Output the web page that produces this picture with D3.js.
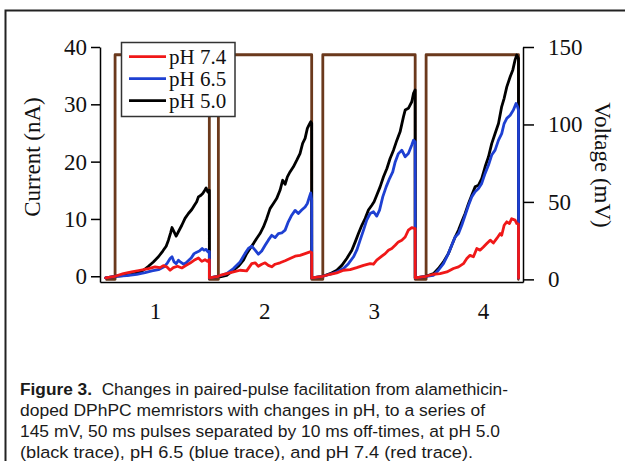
<!DOCTYPE html>
<html><head><meta charset="utf-8">
<script src="https://cdn.jsdelivr.net/npm/d3@7"></script>
<style>body{margin:0;background:#fff}svg{display:block}</style>
</head><body>
<svg id="c" width="625" height="461"></svg>
<script>
// ---- data (time in ms, current in nA, voltage in mV) ----
const pulseOnsets  = [0, 54.8, 110.2, 165.0];
const pulseOffsets = [50.0, 104.3, 159.2, 214.0];
const pulseVoltage = 145;
const restVoltage = 0;
const traceStart = -5;
const traceEnd = 214.4;
const offCurrent = -0.3;
const pulseLabels = ["1", "2", "3", "4"];
const currentTicks = [0, 10, 20, 30, 40];
const voltageTicks = [0, 50, 100, 150];
const seriesNames = ["pH 7.4", "pH 6.5", "pH 5.0"];

// current during each pulse: [ms after pulse onset, nA]
const pH74 = [
  [[0,0],[4.4,0.45],[8.8,0.75],[13.3,1.05],[17.7,1.35],[21.2,1.65],[23.9,1.5],[25.6,1.85],[27.4,1.65],[29.2,1.05],[30.9,1.5],[33.1,1.75],[35.4,1.45],[37.7,1.9],[39.8,2.3],[42.4,2.9],[44.2,3.2],[46.0,2.6],[47.7,2.9],[49.0,2.6],[50.0,2.9]],
  [[0,0],[0.9,0.15],[4.4,0.45],[8.0,0.75],[11.5,1.05],[15.0,0.95],[17.7,2.2],[19.5,2.35],[21.2,1.75],[23.0,2.1],[24.8,2.35],[26.5,1.9],[28.3,1.65],[30.1,2.1],[32.7,2.35],[35.4,2.7],[38.0,3.1],[40.7,3.5],[43.3,3.65],[46.0,3.95],[48.6,4.25],[49.5,4.15]],
  [[0,0],[3.9,0.35],[7.4,0.6],[11.0,1.05],[14.5,1.15],[18.0,1.5],[21.6,1.9],[25.1,2.2],[26.9,2.1],[28.6,2.8],[31.3,3.5],[33.1,3.95],[34.8,4.55],[36.6,4.85],[38.4,5.4],[40.1,6.0],[41.9,6.3],[43.7,6.85],[45.4,8.05],[47.2,8.5],[49.0,8.3]],
  [[0,0],[3.9,0.35],[7.4,0.45],[11.0,0.75],[14.5,1.35],[17.2,1.65],[19.8,2.2],[21.6,3.1],[23.3,3.65],[25.1,3.4],[26.9,4.85],[28.6,4.55],[30.4,5.1],[32.2,5.7],[34.0,6.3],[35.7,5.8],[37.5,6.6],[39.3,7.45],[40.1,7.15],[41.4,8.9],[42.8,9.5],[44.2,9.2],[45.4,10.05],[47.2,9.8],[48.1,9.2],[49.0,9.1]]
];
const pH65 = [
  [[0,0],[6.2,0.1],[11.5,0.35],[15.9,0.65],[19.5,0.95],[23.0,1.15],[26.0,1.65],[27.8,2.35],[29.2,3.1],[30.2,3.4],[31.3,2.5],[32.4,2.2],[33.6,2.8],[34.8,2.45],[36.3,2.1],[37.7,2.35],[39.1,2.8],[40.5,3.25],[41.9,3.95],[43.3,4.2],[44.7,4.4],[46.2,4.85],[47.2,4.55],[48.3,4.7],[49.3,4.25],[50.0,4.35]],
  [[0,0],[4.4,0.45],[8.0,1.35],[11.5,2.5],[14.1,3.95],[15.9,4.85],[17.7,5.25],[19.5,4.55],[21.2,3.85],[23.0,4.4],[24.8,5.4],[26.5,6.3],[28.3,7.15],[30.1,6.75],[31.8,7.45],[33.6,7.55],[35.4,8.05],[37.1,9.5],[38.9,10.65],[40.7,11.5],[42.4,10.95],[44.2,11.55],[46.0,12.1],[47.2,12.7],[48.3,13.85],[49.0,14.55],[49.5,13.3]],
  [[0,0],[3.9,0.35],[7.4,0.75],[11.0,1.35],[13.6,2.2],[16.3,3.4],[18.0,4.55],[19.8,6.3],[21.6,8.05],[23.3,9.8],[25.1,10.95],[26.9,11.25],[28.6,10.5],[30.1,11.55],[31.8,13.85],[33.6,15.6],[35.4,17.05],[37.1,18.2],[38.4,19.95],[40.1,21.4],[41.9,22.0],[43.7,20.85],[45.4,21.4],[47.2,22.9],[48.1,23.75],[49.0,23.45]],
  [[0,0],[3.9,0.15],[6.5,1.05],[9.2,2.2],[11.8,3.95],[13.6,5.4],[15.4,6.85],[17.2,7.45],[18.9,8.9],[20.7,10.65],[22.5,12.4],[24.2,13.85],[26.0,14.75],[27.8,15.3],[29.5,16.2],[31.3,17.95],[33.1,19.4],[34.8,21.15],[36.6,22.0],[38.4,23.75],[40.1,24.9],[41.4,26.65],[42.8,27.55],[44.6,28.1],[46.3,29.0],[47.7,30.15],[48.5,29.6],[49.0,29.0]]
];
const pH50 = [
  [[0,0],[4.4,0.1],[8.8,0.35],[12.4,0.65],[15.0,1.05],[17.7,1.75],[20.3,2.5],[23.0,3.4],[25.3,4.4],[27.1,5.25],[28.3,6.3],[29.5,7.6],[30.2,8.5],[31.3,7.75],[32.4,7.0],[33.8,7.9],[35.4,8.9],[37.1,10.1],[38.9,10.95],[40.7,11.65],[42.1,12.4],[43.3,13.0],[44.2,13.85],[45.4,14.1],[46.5,14.45],[47.6,15.0],[48.3,15.4],[49.2,14.7],[50.0,15.0]],
  [[0,0],[0.9,-0.1],[4.4,0.15],[8.0,1.05],[10.6,1.75],[13.3,2.8],[15.0,3.95],[16.8,4.85],[18.6,5.7],[20.3,6.6],[22.1,7.45],[23.9,8.6],[25.6,10.05],[27.4,11.8],[29.2,12.7],[30.9,13.55],[32.7,15.0],[34.1,16.75],[35.4,16.05],[36.6,17.35],[38.0,18.2],[39.8,19.1],[41.6,20.25],[43.3,21.4],[44.7,23.2],[46.0,24.05],[47.2,25.8],[48.3,26.55],[49.0,26.95],[49.5,26.7]],
  [[0,0],[3.9,0.45],[7.4,1.05],[10.1,1.9],[12.7,3.1],[15.4,4.55],[17.2,6.0],[18.9,7.45],[20.7,8.9],[22.5,10.1],[24.2,11.55],[26.0,12.4],[27.2,13.0],[28.6,14.15],[30.4,15.6],[32.2,17.35],[34.0,18.8],[35.7,20.55],[37.5,22.0],[39.3,23.75],[41.0,25.2],[42.8,27.85],[43.7,29.0],[45.4,29.3],[47.2,30.45],[48.1,31.9],[49.0,32.5]],
  [[0,0],[3.9,0.45],[6.5,1.35],[9.2,2.5],[11.8,3.95],[13.6,5.4],[15.4,6.85],[17.2,8.05],[18.9,9.5],[20.7,10.95],[22.5,12.7],[24.2,14.15],[26.0,15.6],[27.8,15.9],[29.5,17.05],[31.3,19.1],[33.1,20.85],[34.8,23.15],[36.6,24.9],[38.4,26.65],[40.1,29.6],[41.4,31.05],[42.8,33.05],[44.6,34.8],[46.0,36.0],[47.2,37.75],[48.1,38.6],[49.0,38.0]]
];
const captionLines = [
  ["Figure 3.", "  Changes in paired-pulse facilitation from alamethicin-"],
  ["", "doped DPhPC memristors with changes in pH, to a series of"],
  ["", "145 mV, 50 ms pulses separated by 10 ms off-times, at pH 5.0"],
  ["", "(black trace), pH 6.5 (blue trace), and pH 7.4 (red trace)."]
];
const captionWidths = [488, 465, 480, 453];

// ---- drawing ----
const colors = {"pH 7.4": "#f01818", "pH 6.5": "#1e40d2", "pH 5.0": "#000000"};
const voltColor = "#6b391c";
const serif = "'Liberation Serif', 'Times New Roman', serif";
const sans = "'Liberation Sans', Arial, Helvetica, sans-serif";

const svg = d3.select("#c");
const x = d3.scaleLinear().domain([-8, 216.4]).range([100, 523]);
const yI = d3.scaleLinear().domain([-1, 40]).range([282, 47]);
const yV = d3.scaleLinear().domain([-1.7, 150]).range([282, 47]);
const xl = d3.scalePoint().domain(pulseLabels).range([155, 483]);

// outer frame (top + left)
svg.append("path").attr("d", "M5.5,461V10.5H625")
  .attr("fill", "none").attr("stroke", "#222").attr("stroke-width", 2);

// voltage trace
const vPts = [[traceStart, restVoltage]];
pulseOnsets.forEach((on, i) => {
  vPts.push([on, restVoltage], [on, pulseVoltage], [pulseOffsets[i], pulseVoltage], [pulseOffsets[i], restVoltage]);
});
vPts.push([traceEnd, restVoltage]);
svg.append("path").datum(vPts)
  .attr("d", d3.line().x(d => x(d[0])).y(d => yV(d[1])))
  .attr("fill", "none").attr("stroke", voltColor).attr("stroke-width", 2.8)
  .attr("stroke-linejoin", "round");

// current traces
function buildTrace(pulses) {
  const pts = [[traceStart, offCurrent]];
  pulses.forEach((p, i) => {
    p.forEach(d => pts.push([pulseOnsets[i] + d[0], d[1]]));
    pts.push([pulseOnsets[i] + p[p.length - 1][0] + 0.05, offCurrent]);
  });
  return pts;
}
const line = d3.line().x(d => x(d[0])).y(d => yI(d[1]));
[["pH 5.0", pH50], ["pH 6.5", pH65], ["pH 7.4", pH74]].forEach(([name, data]) => {
  svg.append("path").datum(buildTrace(data))
    .attr("d", line).attr("fill", "none")
    .attr("stroke", colors[name]).attr("stroke-width", 2.8)
    .attr("stroke-linejoin", "round").attr("stroke-linecap", "round");
});

// axes
function styleAxis(g, fs) {
  g.selectAll("path.domain").attr("stroke", "#000").attr("stroke-width", 1.5);
  g.selectAll(".tick line").attr("stroke", "#000").attr("stroke-width", 1.5);
  g.selectAll("text").attr("font-family", serif).attr("font-size", fs).attr("fill", "#111");
}
svg.append("g").attr("transform", "translate(100,0)")
  .call(d3.axisLeft(yI).tickValues(currentTicks).tickSize(9).tickPadding(4).tickSizeOuter(0))
  .call(g => styleAxis(g, 23));
svg.append("g").attr("transform", "translate(523,0)")
  .call(d3.axisRight(yV).tickValues(voltageTicks).tickSize(11).tickPadding(14).tickSizeOuter(0))
  .call(g => styleAxis(g, 23));
svg.append("g").attr("transform", "translate(0,282)")
  .call(d3.axisBottom(x).tickValues([]).tickSizeOuter(0))
  .call(g => styleAxis(g, 23));
svg.append("g").attr("transform", "translate(0,282)")
  .call(d3.axisBottom(xl).tickSize(0).tickPadding(21))
  .call(g => g.select("path.domain").remove())
  .call(g => styleAxis(g, 23));

// axis titles
svg.append("text").attr("transform", "translate(32,157) rotate(-90)")
  .attr("text-anchor", "middle").attr("dominant-baseline", "central")
  .attr("font-family", serif).attr("font-size", 23).attr("fill", "#111")
  .text("Current (nA)");
svg.append("text").attr("transform", "translate(602,165) rotate(90)")
  .attr("text-anchor", "middle").attr("dominant-baseline", "central")
  .attr("font-family", serif).attr("font-size", 23).attr("fill", "#111")
  .text("Voltage (mV)");

// legend
const lg = svg.append("g");
lg.append("rect").attr("x", 121.5).attr("y", 42.5).attr("width", 113.5).attr("height", 74)
  .attr("fill", "#fff").attr("stroke", "#333").attr("stroke-width", 1.5);
seriesNames.forEach((name, i) => {
  const yy = 56.7 + i * 22;
  lg.append("line").attr("x1", 129).attr("x2", 166).attr("y1", yy).attr("y2", yy)
    .attr("stroke", colors[name]).attr("stroke-width", 2.8);
  lg.append("text").attr("x", 169).attr("y", yy).attr("dy", "0.33em")
    .attr("font-family", serif).attr("font-size", 21).attr("fill", "#111").text(name);
});

// caption
const cap = svg.append("g");
captionLines.forEach((ln, i) => {
  const t = cap.append("text").attr("x", 20).attr("y", 394.7 + i * 21)
    .attr("font-family", sans).attr("font-size", 16.3).attr("fill", "#1a1a1a")
    .attr("xml:space", "preserve").style("white-space", "pre")
    .attr("textLength", captionWidths[i]).attr("lengthAdjust", "spacingAndGlyphs");
  if (ln[0]) t.append("tspan").attr("font-weight", "bold").text(ln[0]);
  t.append("tspan").text(ln[1]);
});
</script>
</body></html>
